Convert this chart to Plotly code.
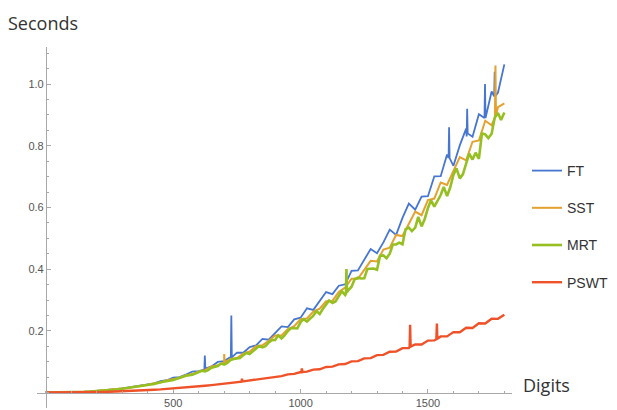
import plotly.graph_objects as go

# ---------------- data ----------------
digits = list(range(0, 1801, 25))

ft = [0, 0.00003, 0.0002, 0.0005, 0.0010, 0.0017, 0.0025, 0.0036, 0.0050, 0.0066,
      0.0086, 0.0108, 0.0134, 0.0163, 0.0195, 0.0230, 0.0269, 0.0299, 0.0371, 0.0399,
      0.0483, 0.0502, 0.0584, 0.0681, 0.0692, 0.0802, 0.0847, 0.0992, 0.1020, 0.1155,
      0.1297, 0.1290, 0.1473, 0.1530, 0.1739, 0.1713, 0.1924, 0.2147, 0.2121, 0.2374,
      0.2428, 0.2732, 0.2680, 0.2972, 0.3259, 0.3192, 0.3463, 0.3510, 0.3948, 0.3958,
      0.4314, 0.4654, 0.4515, 0.4867, 0.5281, 0.5110, 0.5660, 0.6127, 0.5926, 0.6353,
      0.6363, 0.7009, 0.7014, 0.7717, 0.7350, 0.8012, 0.8554, 0.8292, 0.9021, 0.8986,
      0.9758, 0.9723, 1.0638]
ft_spike_x = [622, 624, 626, 726, 728, 730, 1581, 1583, 1585, 1652, 1654, 1656, 1722, 1724, 1726, 1760, 1762, 1764]
ft_spike_y = [0.074, 0.12, 0.078, 0.112, 0.25, 0.114, 0.76, 0.86, 0.76, 0.83, 0.92, 0.84, 0.89, 1.00, 0.89, 0.96, 1.04, 0.96]

sst = [0, 0.00003, 0.0002, 0.0005, 0.0010, 0.0016, 0.0024, 0.0035, 0.0049, 0.0064,
       0.0082, 0.0104, 0.0128, 0.0156, 0.0186, 0.0220, 0.0256, 0.0302, 0.0329, 0.0399,
       0.0433, 0.0472, 0.0561, 0.0599, 0.0685, 0.0725, 0.0847, 0.0890, 0.0980, 0.1089,
       0.1119, 0.1264, 0.1334, 0.1500, 0.1530, 0.1678, 0.1850, 0.1852, 0.2058, 0.2150,
       0.2380, 0.2404, 0.2626, 0.2717, 0.2960, 0.2970, 0.3263, 0.3405, 0.3690, 0.3686,
       0.3989, 0.4270, 0.4247, 0.4633, 0.4694, 0.5110, 0.5073, 0.5459, 0.5868, 0.5748,
       0.6237, 0.6288, 0.6810, 0.6726, 0.7203, 0.7630, 0.7524, 0.8128, 0.8170, 0.8810,
       0.8664, 0.9251, 0.9370]
sst_spike_x = [698, 700, 702, 1763, 1765, 1767]
sst_spike_y = [0.097, 0.125, 0.098, 0.89, 1.06, 0.90]

mrt = [0, 0.00003, 0.0002, 0.0005, 0.0009, 0.0016, 0.0023, 0.0034, 0.0046, 0.0062,
       0.0079, 0.0099, 0.0123, 0.0150, 0.0178, 0.0213, 0.0246, 0.0278, 0.0333, 0.0367,
       0.0406, 0.0477, 0.0544, 0.0574, 0.0650, 0.0686, 0.0805, 0.0862, 0.0909, 0.1056,
       0.1095, 0.1213, 0.1251, 0.1425, 0.1465, 0.1626, 0.1702, 0.1753, 0.1995, 0.2083,
       0.2285, 0.2302, 0.2492, 0.2547, 0.2841, 0.2907, 0.3130, 0.3159, 0.3432, 0.3725,
       0.3704, 0.4014, 0.3978, 0.4446, 0.4499, 0.4803, 0.4806, 0.5347, 0.5345, 0.5385,
       0.5985, 0.6026, 0.6401, 0.6372, 0.7056, 0.6943, 0.7445, 0.7553, 0.7574, 0.8370,
       0.8390, 0.9062, 0.9077]
# extra in-between samples of the MRT band (it is sampled more densely)
mrt_extra_x = [612, 637, 662, 687, 712, 737, 762, 787, 812, 837, 862, 887,
               912, 937, 962, 987, 1012, 1037, 1062, 1087, 1112, 1137, 1162, 1187,
               1212, 1237, 1262, 1287, 1312, 1337, 1362, 1387, 1412, 1437, 1462, 1487,
               1512, 1537, 1562, 1587, 1612, 1637, 1662, 1687, 1712, 1737, 1762, 1787]
mrt_extra_y = [0.0706, 0.0728, 0.0834, 0.0940, 0.0960, 0.1088, 0.1116, 0.1286, 0.1344, 0.1508, 0.1503, 0.1701,
               0.1853, 0.1852, 0.2083, 0.2079, 0.2381, 0.2397, 0.2645, 0.2706, 0.2983, 0.2953, 0.3283, 0.3312,
               0.3671, 0.3697, 0.4003, 0.4020, 0.4438, 0.4354, 0.4800, 0.4859, 0.5291, 0.5235, 0.5693, 0.5619,
               0.6232, 0.6212, 0.6667, 0.6638, 0.7265, 0.7075, 0.7742, 0.7775, 0.8400, 0.8248, 0.8909, 0.8832]
mrt_spike_x = [1178, 1180, 1182]
mrt_spike_y = [0.32, 0.40, 0.325]

pswt = [0, 0.00001, 0.0001, 0.0002, 0.0003, 0.0006, 0.0010, 0.0013, 0.0017, 0.0022,
        0.0029, 0.0035, 0.0042, 0.0050, 0.0060, 0.0069, 0.0080, 0.0092, 0.0104, 0.0118,
        0.0133, 0.0148, 0.0165, 0.0182, 0.0201, 0.0220, 0.0241, 0.0262, 0.0286, 0.0310,
        0.0334, 0.0365, 0.0395, 0.0410, 0.0455, 0.0470, 0.0520, 0.0535, 0.0590, 0.0605,
        0.0665, 0.0680, 0.0745, 0.0755, 0.0830, 0.0840, 0.0915, 0.0925, 0.1010, 0.1020,
        0.1110, 0.1115, 0.1215, 0.1220, 0.1325, 0.1330, 0.1440, 0.1445, 0.1560, 0.1560,
        0.1685, 0.1690, 0.1820, 0.1820, 0.1960, 0.1955, 0.2100, 0.2095, 0.2245, 0.2240,
        0.2395, 0.2390, 0.2520]
pswt_spike_x = [768, 770, 772, 1003, 1005, 1007, 1428, 1430, 1432, 1533, 1535, 1537]
pswt_spike_y = [0.035, 0.045, 0.036, 0.066, 0.078, 0.067, 0.148, 0.22, 0.149, 0.173, 0.224, 0.174]

series_names = ["FT", "SST", "MRT", "PSWT"]
colors = ["#4676D0", "#E3A12F", "#96C021", "#EF5228"]
widths = [1.8, 2.0, 2.6, 2.4]


def merge(xs, ys, *extra):
    ax, ay = list(xs), list(ys)
    for i in range(0, len(extra), 2):
        ax += list(extra[i])
        ay += list(extra[i + 1])
    pts = sorted(zip(ax, ay))
    return [p[0] for p in pts], [p[1] for p in pts]


series = [
    merge(digits, ft, ft_spike_x, ft_spike_y),
    merge(digits, sst, sst_spike_x, sst_spike_y),
    merge(digits, mrt, mrt_extra_x, mrt_extra_y, mrt_spike_x, mrt_spike_y),
    merge(digits, pswt, pswt_spike_x, pswt_spike_y),
]

W, H = 617, 410
ML, MR, MT, MB = 37, 105, 47, 2
PW, PH = W - ML - MR, H - MT - MB
XR = [-35, 1830]
YR = [-0.05, 1.12]


def px(xp):
    return (xp - ML) / PW


def py(yp):
    return (H - MB - yp) / PH


fig = go.Figure()
for name, col, wd, (xx, yy) in zip(series_names, colors, widths, series):
    fig.add_trace(go.Scatter(x=xx, y=yy, mode="lines", name=name, legendgroup=name,
                             line=dict(color=col, width=wd)))

axis_col = "#A8A8A8"
tick_font = dict(family="Liberation Sans", size=11, color="#555555")
label_font = dict(family="Open Sans", size=18, color="#333333")

fig.update_layout(
    width=W, height=H,
    margin=dict(l=ML, r=MR, t=MT, b=MB),
    paper_bgcolor="white", plot_bgcolor="white",
    xaxis=dict(range=XR, showgrid=False, zeroline=False, showline=True,
               linecolor=axis_col, linewidth=1,
               anchor="free", position=(0 - YR[0]) / (YR[1] - YR[0]),
               tickmode="array", tickvals=[500, 1000, 1500], ticktext=["500", "1000", "1500"],
               ticks="inside", ticklen=4, tickcolor=axis_col, tickfont=tick_font,
               minor=dict(tickmode="linear", tick0=0, dtick=100, ticks="inside",
                          ticklen=2, tickcolor=axis_col)),
    yaxis=dict(range=YR, showgrid=False, zeroline=False, showline=True,
               linecolor=axis_col, linewidth=1,
               anchor="free", position=(0 - XR[0]) / (XR[1] - XR[0]),
               tickmode="array", tickvals=[0.2, 0.4, 0.6, 0.8, 1.0],
               ticktext=["0.2", "0.4", "0.6", "0.8", "1.0"],
               ticks="inside", ticklen=4, tickcolor=axis_col, tickfont=tick_font,
               minor=dict(tickmode="linear", tick0=0, dtick=0.05, ticks="inside",
                          ticklen=2, tickcolor=axis_col)),
    legend=dict(x=px(527), xanchor="left", y=py(155), yanchor="top",
                font=dict(family="Liberation Sans", size=14, color="#333333"),
                itemwidth=30, tracegroupgap=16, bgcolor="rgba(0,0,0,0)"),
    showlegend=True,
    annotations=[
        dict(text="Seconds", xref="paper", yref="paper", x=px(6), y=py(23),
             xanchor="left", yanchor="middle", showarrow=False, font=label_font),
        dict(text="Digits", xref="paper", yref="paper", x=px(521), y=py(385),
             xanchor="left", yanchor="middle", showarrow=False, font=label_font),
    ],
)

fig.write_html("out.html")
